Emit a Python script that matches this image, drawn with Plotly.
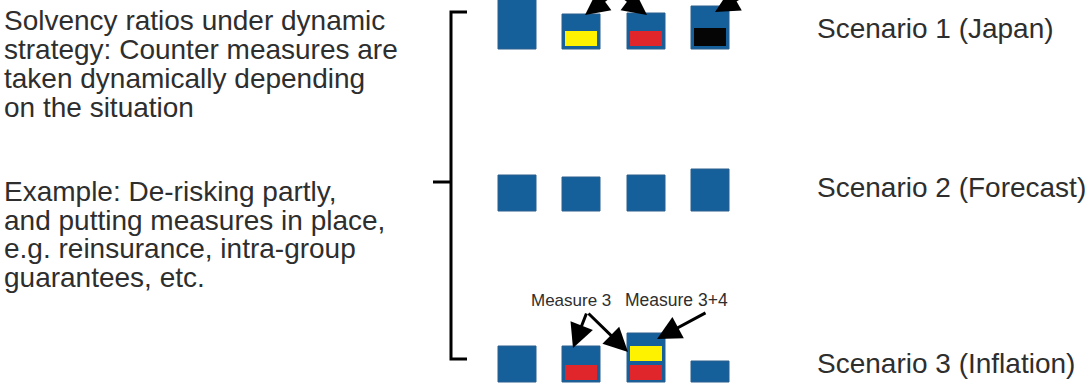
import plotly.graph_objects as go

# Bar centres (pixel columns) shared by all scenarios
bar_x = [517, 581, 646, 710]

scenarios = ["Scenario 1 (Japan)", "Scenario 2 (Forecast)", "Scenario 3 (Inflation)"]
scenario_base = [49, 211, 382]          # row of each scenario's bar baseline
scenario_label_y = [28, 187, 363]

# Solvency ratio bar heights per scenario
ratios_s1 = [52, 35, 36, 43]
ratios_s2 = [36, 34, 36, 42]
ratios_s3 = [36, 36, 49, 21]
ratios = [ratios_s1, ratios_s2, ratios_s3]

# Counter-measure contributions inside bars: (scenario, bar, offset, height, colour)
measure_scen = [0, 0, 0, 2, 2, 2]
measure_bar = [1, 2, 3, 1, 2, 2]
measure_offset = [3, 3, 3, 2, 2, 21]
measure_height = [15, 15, 18, 15, 15, 15]
measure_color = ["#fff200", "#e0262b", "#050505", "#e0262b", "#e0262b", "#fff200"]

left_text_1 = ["Solvency ratios under dynamic",
               "strategy: Counter measures are",
               "taken dynamically depending",
               "on the situation"]
left_text_1_y = [20, 49, 78, 107]
left_text_2 = ["Example: De-risking partly,",
               "and putting measures in place,",
               "e.g. reinsurance, intra-group",
               "guarantees, etc."]
left_text_2_y = [191, 220, 248, 277]

BLUE = "#15609b"
TEXT = "#2e2e2e"
FONT = "Liberation Sans, Arial, sans-serif"

fig = go.Figure()

# Solvency ratio bars
for base, vals in zip(scenario_base, ratios):
    fig.add_trace(go.Bar(
        x=bar_x, y=[-v for v in vals], base=[base] * len(vals), width=38,
        marker=dict(color=BLUE, line=dict(color="#2b5f8e", width=1)),
        showlegend=False, hoverinfo="skip"))

# Counter-measure segments
for s, b, off, h, c in zip(measure_scen, measure_bar, measure_offset, measure_height, measure_color):
    fig.add_trace(go.Bar(
        x=[bar_x[b]], y=[-h], base=[scenario_base[s] - off], width=32,
        marker=dict(color=c, line=dict(width=0)),
        showlegend=False, hoverinfo="skip"))

# Bracket grouping the three scenarios
fig.add_trace(go.Scatter(
    x=[467, 451, 451, 467, None, 433, 451],
    y=[12, 12, 359, 359, None, 182, 182],
    mode="lines", line=dict(color="black", width=3),
    showlegend=False, hoverinfo="skip"))

annotations = []
for txt, y in zip(left_text_1 + left_text_2, left_text_1_y + left_text_2_y):
    annotations.append(dict(x=2, y=y, text=txt, showarrow=False, xanchor="left",
                            yanchor="middle", font=dict(size=28, color=TEXT, family=FONT)))
for txt, y in zip(scenarios, scenario_label_y):
    annotations.append(dict(x=815, y=y, text=txt, showarrow=False, xanchor="left",
                            yanchor="middle", font=dict(size=28, color=TEXT, family=FONT)))

# Measure labels for scenario 3
annotations.append(dict(x=571, y=300, text="Measure 3", showarrow=False, xanchor="center",
                        yanchor="middle", font=dict(size=17, color=TEXT, family=FONT)))
annotations.append(dict(x=623, y=300, text="Measure 3+4", showarrow=False, xanchor="left",
                        yanchor="middle", font=dict(size=17.5, color=TEXT, family=FONT)))

# Arrows: (head x, head y, tail x, tail y)
arrows = [
    (585, 15, 625, -15),
    (647, 15, 607, -15),
    (715, 12, 757, -12),
    (573, 348, 587, 312),
    (628, 352, 587, 312),
    (657, 339, 707, 312),
]
for hx, hy, tx, ty in arrows:
    annotations.append(dict(x=hx, y=hy, ax=tx, ay=ty, xref="x", yref="y",
                            axref="x", ayref="y", text="", showarrow=True,
                            arrowhead=2, arrowsize=1.6, arrowwidth=3,
                            arrowcolor="black", standoff=0))

fig.update_layout(
    width=1092, height=384,
    margin=dict(l=0, r=0, t=0, b=0),
    paper_bgcolor="white", plot_bgcolor="white",
    barmode="overlay",
    xaxis=dict(range=[0, 1092], visible=False, fixedrange=True),
    yaxis=dict(range=[384, 0], visible=False, fixedrange=True),
    annotations=annotations,
)

fig.write_html("out.html")
